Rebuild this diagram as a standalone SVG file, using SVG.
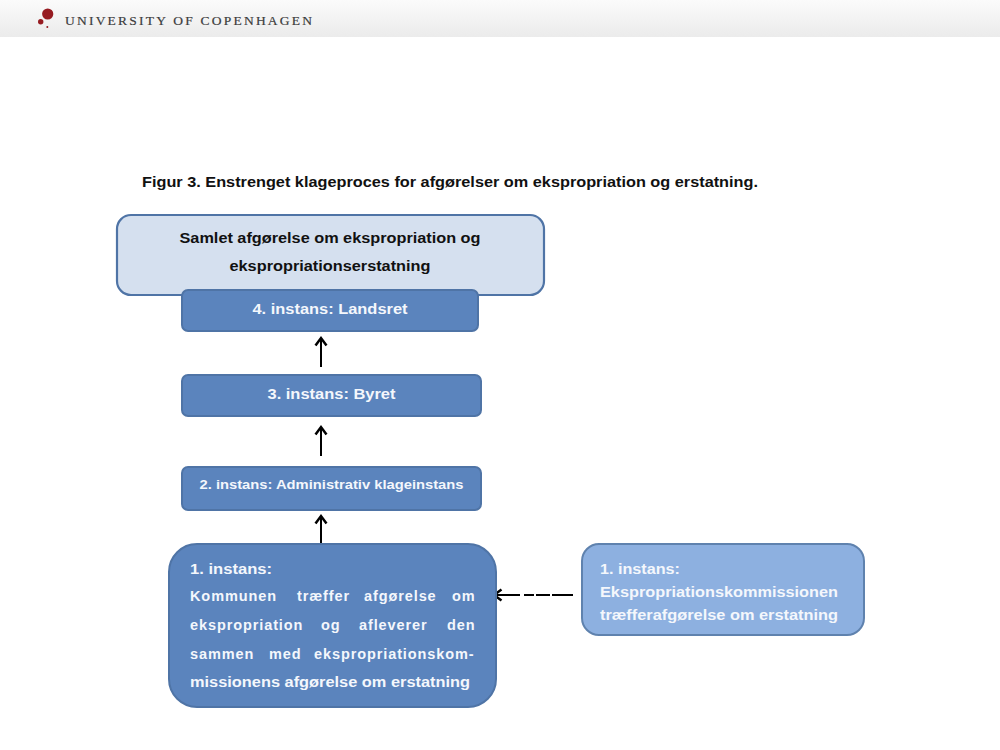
<svg xmlns="http://www.w3.org/2000/svg" width="1000" height="750" viewBox="0 0 1000 750">
<style>
text{font-family:"Liberation Sans",Arial,sans-serif;font-size:14.5px;font-weight:bold}
.w{fill:#f4f7fc}.k{fill:#111}
.m{text-anchor:middle}
.j{letter-spacing:0.9px}
.dark{fill:#5b84bd;stroke:#4f74a6;stroke-width:2}
.edge{fill:none;stroke:#000;stroke-width:2}
</style>
<defs>
<linearGradient id="hdr" x1="0" y1="0" x2="0" y2="1"><stop offset="0" stop-color="#fbfbfb"/><stop offset="1" stop-color="#ebebeb"/></linearGradient>
<marker id="ah" markerWidth="14" markerHeight="14" refX="11" refY="7" orient="auto" markerUnits="userSpaceOnUse"><path d="M3.500 1.500L11 7L3.500 12.500" fill="none" stroke="#000" stroke-width="2.500"/></marker>
</defs>
<rect width="1000" height="750" fill="#fff"/>
<g id="header">
<rect width="1000" height="37" fill="url(#hdr)"/>
<circle cx="47.700" cy="14" r="5.600" fill="#961b21"/>
<circle cx="40.700" cy="21.700" r="2.700" fill="#961b21"/>
<circle cx="47.300" cy="27" r="1" fill="#961b21"/>
<text x="65" y="24.500" textLength="247" lengthAdjust="spacing" style="font-family:'Liberation Serif',serif;font-size:13.500px;font-weight:normal" fill="#3c3c3c" stroke="#3c3c3c" stroke-width="0.200">UNIVERSITY OF COPENHAGEN</text>
</g>
<text id="title" x="142" y="187" textLength="616" lengthAdjust="spacingAndGlyphs" class="k" style="font-size:15px">Figur 3. Enstrenget klageproces for afgørelser om ekspropriation og erstatning.</text>
<g id="connectors">
<path class="edge" d="M321 367V338" marker-end="url(#ah)"/>
<path class="edge" d="M321 456V427" marker-end="url(#ah)"/>
<path class="edge" d="M321 544V516" marker-end="url(#ah)"/>
<path class="edge" d="M573 595H494" stroke-dasharray="21 2 14 2 10 4 40" marker-end="url(#ah)"/>
</g>
<g id="samlet">
<rect x="117" y="215" width="427" height="80" rx="14" fill="#d5e0ef" stroke="#4f74a6" stroke-width="2.200"/>
<text x="330" y="243" class="k m" textLength="301" lengthAdjust="spacingAndGlyphs">Samlet afgørelse om ekspropriation og</text>
<text x="330" y="271" class="k m" textLength="201" lengthAdjust="spacingAndGlyphs">ekspropriationserstatning</text>
</g>
<g id="instans4">
<rect class="dark" x="182" y="290" width="296" height="41" rx="6"/>
<text x="330" y="314" class="w m" textLength="155" lengthAdjust="spacingAndGlyphs">4. instans: Landsret</text>
</g>
<g id="instans3">
<rect class="dark" x="182" y="375" width="299" height="41" rx="6"/>
<text x="331.500" y="399" class="w m" textLength="128" lengthAdjust="spacingAndGlyphs">3. instans: Byret</text>
</g>
<g id="instans2">
<rect class="dark" x="182" y="467" width="299" height="43" rx="6"/>
<text x="331.500" y="489" class="w m" textLength="264" lengthAdjust="spacingAndGlyphs" style="font-size:13.500px">2. instans: Administrativ klageinstans</text>
</g>
<g id="instans1">
<rect class="dark" x="169" y="544" width="327" height="163" rx="28"/>
<text x="190" y="574" class="w" textLength="82" lengthAdjust="spacingAndGlyphs">1. instans:</text>
<text y="601" class="w j"><tspan x="190">Kommunen</tspan><tspan x="297">træffer</tspan><tspan x="364">afgørelse</tspan><tspan x="452">om</tspan></text>
<text y="630" class="w j"><tspan x="190">ekspropriation</tspan><tspan x="321">og</tspan><tspan x="359">afleverer</tspan><tspan x="447">den</tspan></text>
<text y="659" class="w j"><tspan x="190">sammen</tspan><tspan x="269">med</tspan><tspan x="314">ekspropriationskom-</tspan></text>
<text x="190" y="687" class="w" textLength="280" lengthAdjust="spacingAndGlyphs">missionens afgørelse om erstatning</text>
</g>
<g id="kommission">
<rect x="582" y="544" width="282" height="91" rx="17" fill="#8db0e0" stroke="#5f82ae" stroke-width="2"/>
<text x="600" y="574" class="w" textLength="80" lengthAdjust="spacingAndGlyphs">1. instans:</text>
<text x="600" y="597" class="w" textLength="238" lengthAdjust="spacingAndGlyphs">Ekspropriationskommissionen</text>
<text x="600" y="620" class="w" textLength="238" lengthAdjust="spacingAndGlyphs">træfferafgørelse om erstatning</text>
</g>
</svg>
